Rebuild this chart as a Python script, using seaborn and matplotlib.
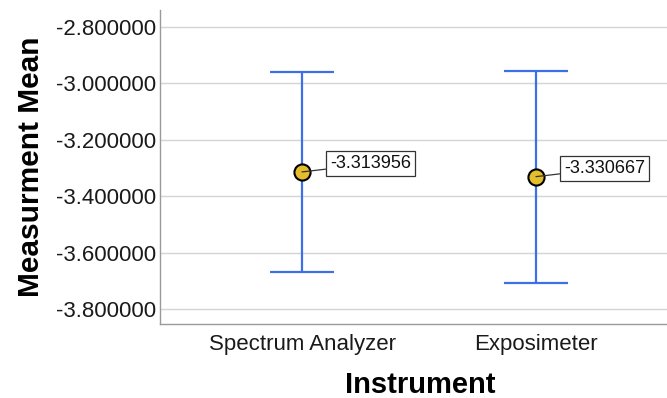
import matplotlib
matplotlib.use("Agg")
import matplotlib.pyplot as plt
import seaborn as sns
import pandas as pd
import numpy as np

instruments = ["Spectrum Analyzer", "Exposimeter"]
means = [-3.313956, -3.330667]
upper = [-2.961, -2.956]
lower = [-3.667, -3.706]
yticks = [-2.8, -3.0, -3.2, -3.4, -3.6, -3.8]

df = pd.DataFrame({"Instrument": instruments, "Mean": means})

sns.set_theme(style="white")
plt.rcParams["font.family"] = ["Liberation Sans", "DejaVu Sans"]

fig = plt.figure(figsize=(6.67, 3.98), dpi=100)
ax = fig.add_axes([160/667, 1-324/398, (667-160)/667, (324-10)/398])

xpos = np.arange(len(instruments))
m = np.array(means)
err = np.vstack([m - np.array(lower), np.array(upper) - m])
ax.errorbar(xpos, m, yerr=err, fmt="none", ecolor="#3D6FE8", elinewidth=1.6,
            capsize=32*0.72, capthick=1.6, zorder=2)
sns.scatterplot(data=df, x="Instrument", y="Mean", ax=ax, s=135, color="#E3BD2B",
                edgecolor="black", linewidth=1.5, zorder=3)

for x, y in zip(xpos, m):
    ax.annotate(f"{y:.6f}", xy=(x, y), xytext=(28, 8), textcoords="offset pixels",
                ha="left", va="center", fontsize=13, color="#111111",
                bbox=dict(boxstyle="square,pad=0.22", fc="white", ec="#333333", lw=0.9),
                arrowprops=dict(arrowstyle="-", color="#333333", lw=0.9,
                                shrinkA=0, shrinkB=0), zorder=4)

ax.set_xlim(-0.607, 1.56)
ax.set_ylim(-3.853, -2.74)
ax.set_yticks(yticks)
ax.set_yticklabels([f"{v:.6f}" for v in yticks])
ax.yaxis.grid(True, color="#D4D4D4", lw=1)
ax.set_axisbelow(True)
ax.tick_params(axis="y", labelsize=16, colors="#1a1a1a", length=0, pad=3)
ax.tick_params(axis="x", labelsize=16, colors="#1a1a1a", length=0, pad=7)
for s in ["top", "right"]:
    ax.spines[s].set_visible(False)
for s in ["left", "bottom"]:
    ax.spines[s].set_color("#9A9A9A")
    ax.spines[s].set_linewidth(1)
ax.set_xlabel("Instrument", fontsize=21, fontweight="bold", color="black")
ax.set_ylabel("Measurment Mean", fontsize=21.5, fontweight="bold", labelpad=8, color="black")
ax.xaxis.set_label_coords((420-160)/(667-160), -(385-324)/314, transform=ax.transAxes)
ax.xaxis.label.set_va("center")

fig.savefig("out.png", dpi=100)
